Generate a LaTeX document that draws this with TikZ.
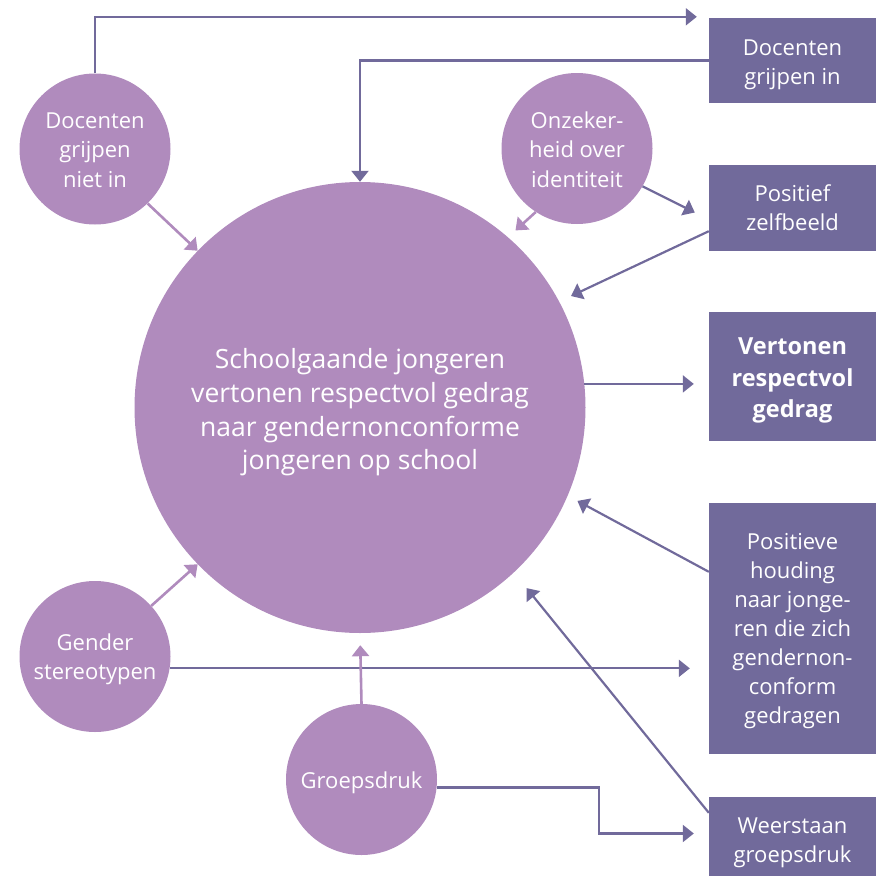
\documentclass[tikz,border=0pt]{standalone}
\usepackage{fontspec}
\setmainfont{Open Sans}
\usetikzlibrary{arrows.meta,calc}
\definecolor{lightp}{HTML}{B08BBD}
\definecolor{darkp}{HTML}{716A9B}
\begin{document}
\begin{tikzpicture}[x=1pt,y=-1pt,
 circ/.style={circle,fill=lightp,inner sep=0pt,minimum size=151pt},
 circtext/.style={text=white,align=center,font=\fontsize{22}{29.5}\selectfont},
 bigc/.style={circle,fill=lightp,inner sep=0pt,minimum size=451pt},
 bigtext/.style={text=white,align=center,font=\fontsize{26.5}{33.7}\selectfont,yshift=-5pt},
 box/.style={rectangle,fill=darkp,inner sep=0pt,minimum width=167pt},
 boxtext/.style={text=white,align=center,font=\fontsize{22}{29}\selectfont},
 dl/.style={draw=darkp,line width=2.2pt,-{Triangle[width=17pt,length=11pt]}},
 ll/.style={draw=lightp,line width=2.6pt,-{Triangle[width=17pt,length=11pt]}},
]
\useasboundingbox (0,0) rectangle (876,876);
\node[bigc,label={[bigtext]center:{Schoolgaande jongeren\\vertonen respectvol gedrag\\naar gendernonconforme\\jongeren op school}}] (big) at (360,407.5) {};
\node[circ,label={[circtext,yshift=-1pt]center:{Docenten\\grijpen\\niet in}}] (dni) at (95,149) {};
\node[circ,label={[circtext,yshift=-1pt]center:{Onzeker-\\heid over\\identiteit}}] (onz) at (577,148.5) {};
\node[circ,label={[circtext,yshift=-3pt]center:{Gender\\stereotypen}}] (gs) at (95,656.5) {};
\node[circ,label={[circtext,yshift=-3pt]center:{Groepsdruk}}] (grp) at (361.5,779.5) {};

\node[box,minimum height=85pt,label={[boxtext,yshift=-4pt]center:{Docenten\\grijpen in}}] (dgi) at (792.5,60.5) {};
\node[box,minimum height=86pt,label={[boxtext]center:{Positief\\zelfbeeld}}] (pz) at (792.5,208) {};
\node[box,minimum height=129pt,label={[boxtext,font=\fontsize{23.5}{31.5}\selectfont\bfseries,yshift=-4pt]center:{Vertonen\\respectvol\\gedrag}}] (vrg) at (792.5,376.5) {};
\node[box,minimum height=251pt,label={[boxtext,yshift=-3pt]center:{Positieve\\houding\\naar jonge-\\ren die zich\\gendernon-\\conform\\gedragen}}] (ph) at (792.5,628.5) {};
\node[box,minimum height=79pt,label={[boxtext,yshift=-6pt]center:{Weerstaan\\groepsdruk}}] (wg) at (792.5,836.5) {};

\draw[dl] (dni.north) |- ($(dgi.north west)+(-12,-1)$);
\draw[dl] (dgi.west) -| (big.north);
\draw[ll] (dni.-46) -- (big.136.5);
\draw[ll,shorten >=10pt] (onz.-123) -- (big.49);
\draw[dl] (onz.-30) -- ($(pz.west)+(-14,4.5)$);
\draw[dl,shorten >=13pt] ($(pz.south west)+(0,-20)$) -- (big.28);
\draw[dl,shorten >=15pt] (big.6) -- (big.6 -| vrg.west);
\draw[dl,shorten >=11pt] ($(ph.north west)+(0,69)$) -- (big.-23);
\draw[dl,shorten >=20pt] ($(wg.north west)+(0,16)$) -- (big.-47.3);
\draw[ll] (gs.42) -- (big.224);
\draw[dl,shorten >=19pt] (gs.-9) -- (gs.-9 -| ph.west);
\draw[ll,shorten >=12pt] (grp.north) -- (big.south);
\draw[dl,shorten >=15pt] (grp.-6) -- ++(162,0) |- ($(wg.west)+(0,-3)$);
\end{tikzpicture}
\end{document}
